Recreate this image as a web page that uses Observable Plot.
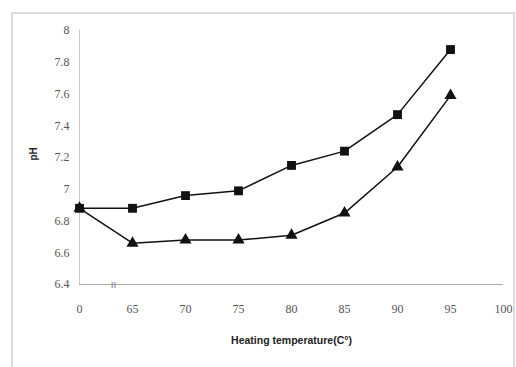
<!DOCTYPE html>
<html><head><meta charset="utf-8">
<script src="https://cdn.jsdelivr.net/npm/d3@7"></script>
<script src="https://cdn.jsdelivr.net/npm/@observablehq/plot@0.6"></script>
<style>
body{margin:0;background:#fff;}
#wrap{position:relative;width:516px;height:367px;}
#border{position:absolute;left:11px;top:12px;width:504px;height:355px;border:2px solid #dcdcdc;border-bottom:none;box-sizing:border-box;pointer-events:none;}
</style>
</head><body>
<div id="wrap"><div id="border"></div></div>
<script>
const xLabels = ["0","65","70","75","80","85","90","95","100"];
const temps = ["0","65","70","75","80","85","90","95"];
const seriesSquare = [6.88, 6.88, 6.96, 6.99, 7.15, 7.24, 7.47, 7.88];
const seriesTriangle = [6.88, 6.66, 6.68, 6.68, 6.71, 6.85, 7.14, 7.59];
const yTicks = [6.4, 6.6, 6.8, 7, 7.2, 7.4, 7.6, 7.8, 8];

const sq = temps.map((t,i)=>({t, v: seriesSquare[i]}));
const tr = temps.map((t,i)=>({t, v: seriesTriangle[i]}));

const chart = Plot.plot({
  width: 516, height: 367,
  marginLeft: 79, marginRight: 13, marginTop: 30, marginBottom: 83,
  style: {background: "transparent", fontFamily: "Liberation Serif", fontSize: "11px", color: "#555"},
  x: {type: "point", domain: xLabels, padding: 0, label: null},
  y: {domain: [6.4, 8], label: null},
  marks: [
    Plot.ruleX([xLabels[0]], {stroke: "#c8c8c8", strokeWidth: 1}),
    Plot.ruleY([6.4], {stroke: "#aaa", strokeWidth: 1}),
    Plot.axisY({ticks: yTicks, tickSize: 0, tickPadding: 10, tickFormat: d => String(d), fill: "#555", fontSize: 12, fontFamily: "Liberation Serif"}),
    Plot.axisX({tickSize: 0, tickPadding: 20, fill: "#555", fontSize: 12, fontFamily: "Liberation Serif"}),
    Plot.text(["ıı"], {x: () => "0", y: () => 6.4, dx: 34, fontSize: 10, fill: "#777", fontFamily: "Liberation Sans"}),
    Plot.line(sq, {x: "t", y: "v", stroke: "#111", strokeWidth: 1.5}),
    Plot.line(tr, {x: "t", y: "v", stroke: "#111", strokeWidth: 1.5}),
    Plot.dot(sq, {x: "t", y: "v", symbol: "square", r: 5, fill: "#111"}),
    Plot.dot(tr, {x: "t", y: "v", symbol: "triangle", r: 4.5, fill: "#111"}),
    Plot.text(["Heating temperature(C°)"], {frameAnchor: "bottom", dy: 59, fontFamily: "Liberation Sans Narrow, Liberation Sans", fontWeight: "bold", fontSize: 10.5, fill: "#222"}),
    Plot.text(["pH"], {frameAnchor: "left", dx: -46, dy: 3, rotate: -90, fontFamily: "Liberation Sans", fontWeight: "bold", fontSize: 10, fill: "#222"})
  ]
});
document.getElementById("wrap").appendChild(chart);
</script>
</body></html>
